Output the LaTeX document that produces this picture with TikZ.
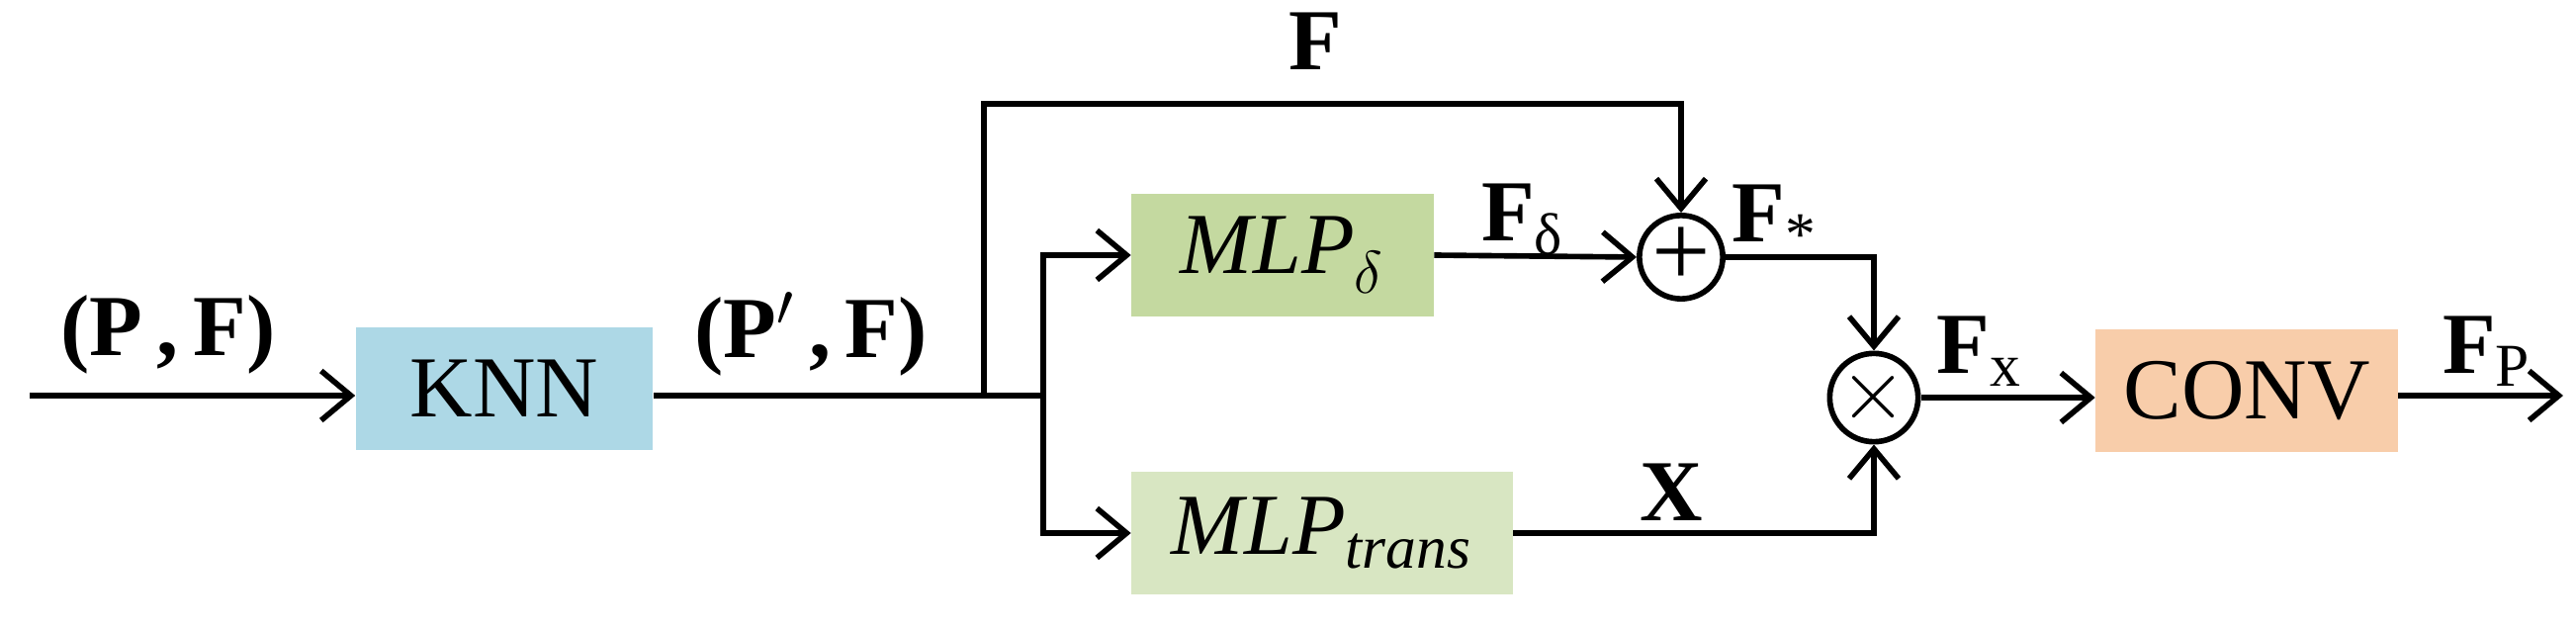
\documentclass[tikz,border=0pt]{standalone}
\usepackage{fontspec}
\setmainfont{Liberation Serif}
\usetikzlibrary{arrows.meta}
\begin{document}
\begin{tikzpicture}[x=0.01cm,y=-0.01cm,
  every node/.style={font=\fontsize{25}{30}\selectfont},
  box/.style={draw=none,inner sep=0,minimum height=1.23cm},
  op/.style={circle,draw,line width=1.6pt,minimum size=0.72cm,inner sep=0},
  lab/.style={font=\fontsize{25}{30}\selectfont\bfseries},
  line/.style={line width=1.6pt},
  arr/.style={line, -{Straight Barb[length=3mm,width=5mm]}}]
\useasboundingbox (0,0) rectangle (2605,637);
\definecolor{knnc}{HTML}{ADD8E6}
\definecolor{mlpd}{HTML}{C4D9A0}
\definecolor{mlpt}{HTML}{D8E6C2}
\definecolor{convc}{HTML}{F8CDAA}
\node[box,fill=knnc,minimum width=3cm] (knn) at (510,393) {KNN};
\node[box,fill=mlpd,minimum width=3.05cm] (md) at (1297,258) {\itshape MLP\textsubscript{\raisebox{-2pt}{$\delta$}}};
\node[box,fill=mlpt,minimum width=3.85cm] (mt) at (1337,539) {\itshape MLP\textsubscript{trans}};
\node[box,fill=convc,minimum width=3.05cm] (conv) at (2272,395) {CONV};
\node[op] (plus) at (1700,260) {\fontsize{30}{30}\selectfont +};
\node[op] (times) at (1895,402) {\fontsize{28}{28}\selectfont $\times$};
\coordinate (in) at (30,400);
\coordinate (b1) at (995,400);
\coordinate (b2) at (1055,400);
\coordinate (out) at (2592,400);
\draw[arr] (in) -- (knn.west |- in);
\draw[line] (knn.east |- b1) -- (b2);
\draw[arr] (b2) |- (md.west);
\draw[arr] (b2) |- (mt.west);
\draw[arr] (b1) |- (1700,105) -- (plus.north);
\draw[arr] (md.east) -- (plus.west);
\draw[arr] (plus.east) -| (times.north);
\draw[arr] (mt.east) -| (times.south);
\draw[arr] (times.east) -- (conv.west |- times.east);
\draw[arr] (conv.east |- out) -- (out);
\node[lab] at (170,338) {(P\,,\,F)};
\node[lab] at (820,338) {(P$'$\,,\,F)};
\node[lab] at (1330,42) {F};
\node[lab] at (1540,222) {F\textsubscript{\normalfont\fontsize{17}{17}\selectfont δ}};
\node[lab] at (1795,222) {F\textsubscript{\normalfont *}};
\node[lab] at (1690,498) {X};
\node[lab] at (2002,355) {F\textsubscript{\normalfont x}};
\node[lab] at (2515,355) {F\textsubscript{\normalfont P}};
\end{tikzpicture}
\end{document}
